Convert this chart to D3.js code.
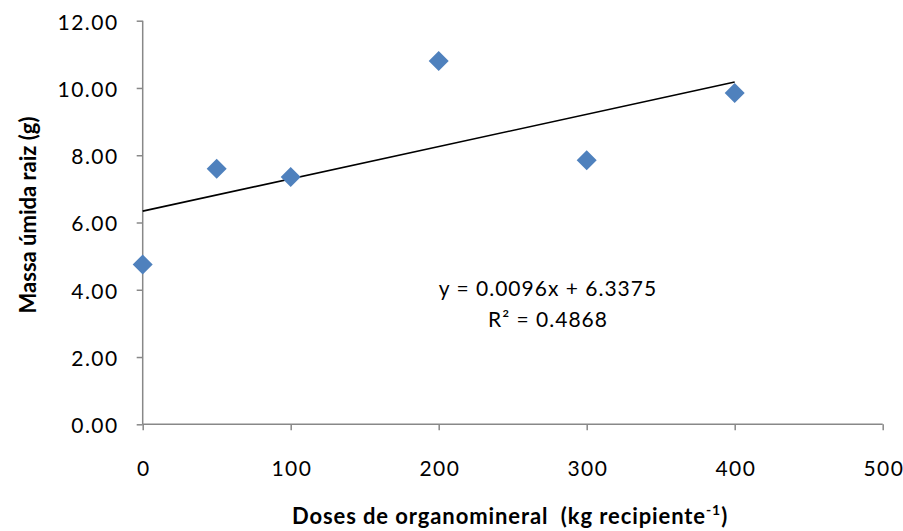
<!DOCTYPE html>
<html>
<head>
<meta charset="utf-8">
<script src="https://cdn.jsdelivr.net/npm/d3@7"></script>
<style>
  body { margin: 0; background: #fff; }
  svg text { font-family: Lato, "Open Sans", sans-serif; fill: #000; }
</style>
</head>
<body>
<div class="chart"></div>
<script>
'use strict';

var doses = [0, 50, 100, 200, 300, 400];
var massa = [4.75, 7.6, 7.35, 10.8, 7.85, 9.85];
var xTicks = [0, 100, 200, 300, 400, 500];
var yTicks = [0, 2, 4, 6, 8, 10, 12];
var slope = 0.0096, intercept = 6.3375;
var trendRange = [0, 400];
var equationLines = ['y = 0.0096x + 6.3375', 'R² = 0.4868'];

(function() {
  var width = 903, height = 531;
  var plotLeft = 142.7, plotRight = 882.7, plotTop = 20.7, plotBottom = 424.3;

  var svg = d3.select('.chart').append('svg')
    .attr('width', width)
    .attr('height', height);

  var x = d3.scaleLinear().domain([0, 500]).range([plotLeft, plotRight]);
  var y = d3.scaleLinear().domain([0, 12]).range([plotBottom, plotTop]);

  // axes
  var xAxis = svg.append('g')
    .attr('transform', 'translate(0,' + plotBottom + ')')
    .call(d3.axisBottom(x).tickValues(xTicks).tickSize(6).tickPadding(31).tickFormat(d3.format('d')));
  var yAxis = svg.append('g')
    .attr('transform', 'translate(' + plotLeft + ',0)')
    .call(d3.axisLeft(y).tickValues(yTicks).tickSize(6).tickPadding(18).tickFormat(d3.format('.2f')));

  [xAxis, yAxis].forEach(function(a) {
    a.select('.domain').attr('stroke', '#888').attr('stroke-width', 1.5);
    a.selectAll('.tick line').attr('stroke', '#888').attr('stroke-width', 1.5);
    a.selectAll('.tick text')
      .style('font-size', '21px')
      .style('letter-spacing', '1.5px')
      .attr('fill', '#000');
  });
  xAxis.selectAll('.tick text').attr('dx', '0.75');
  yAxis.selectAll('.tick text').attr('dy', '0.4em');
  xAxis.select('.domain').attr('d', 'M' + plotLeft + ',0H' + plotRight);
  yAxis.select('.domain').attr('d', 'M0,' + plotTop + 'V' + plotBottom);

  // trend line
  svg.append('line')
    .attr('x1', x(trendRange[0]))
    .attr('y1', y(slope * trendRange[0] + intercept))
    .attr('x2', x(trendRange[1]))
    .attr('y2', y(slope * trendRange[1] + intercept))
    .attr('stroke', '#000')
    .attr('stroke-width', 1.6);

  // markers
  svg.selectAll('path.point')
    .data(doses)
    .enter()
    .append('path')
    .attr('class', 'point')
    .attr('d', function(d, i) {
      var cx = x(d), cy = y(massa[i]), r = 10;
      return 'M' + cx + ',' + (cy - r) + 'L' + (cx + r) + ',' + cy +
        'L' + cx + ',' + (cy + r) + 'L' + (cx - r) + ',' + cy + 'Z';
    })
    .attr('fill', '#4F81BD');

  // equation
  svg.selectAll('text.eq')
    .data(equationLines)
    .enter()
    .append('text')
    .attr('class', 'eq')
    .attr('x', 548)
    .attr('y', function(d, i) { return 296 + i * 31; })
    .attr('text-anchor', 'middle')
    .style('font-size', '21px')
    .style('letter-spacing', '1px')
    .text(function(d) { return d; });

  // axis titles
  var xTitle = svg.append('text')
    .attr('x', 510)
    .attr('y', 524)
    .attr('text-anchor', 'middle')
    .style('font-size', '22px')
    .style('letter-spacing', '0.9px')
    .style('font-weight', 'bold')
    .style('white-space', 'pre');
  xTitle.append('tspan').text('Doses de organomineral  (kg recipiente');
  xTitle.append('tspan').attr('dy', -9).style('font-size', '14px').text('-1');
  xTitle.append('tspan').attr('dy', 9).text(')');

  svg.append('text')
    .attr('transform', 'translate(36,215) rotate(-90)')
    .attr('text-anchor', 'middle')
    .style('font-size', '22px')
    .style('font-weight', 'bold')
    .text('Massa úmida raiz (g)');
})();
</script>
</body>
</html>
